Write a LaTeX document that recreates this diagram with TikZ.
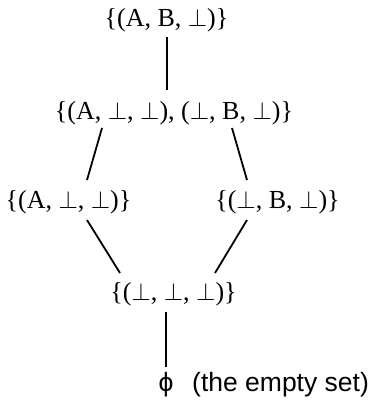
\documentclass[tikz,border=0pt]{standalone}
\usepackage{fontspec}
\setmainfont{Liberation Serif}
\newfontfamily\labelsans{Liberation Sans}
\usetikzlibrary{positioning}

\tikzset{
  set/.style={anchor=base, inner sep=0pt, font=\fontsize{26}{31}\selectfont},
  note/.style={anchor=base, inner sep=0pt, font=\labelsans\fontsize{26.5}{31}\selectfont},
  edge/.style={line width=1.8pt}
}

\begin{document}
\begin{tikzpicture}[x=1pt,y=-1pt]
    \useasboundingbox (0,0) rectangle (370,400);
    % the lattice, top to bottom
    \node[set] (top) at (166.5,26) {\{(A, B, $\bot$)\}};
    \node[set] (pair) at (174,119) {\{(A, $\bot$, $\bot$), ($\bot$, B, $\bot$)\}};
    \node[set] (left) at (68.5,208) {\{(A, $\bot$, $\bot$)\}};
    \node[set] (right) at (277.5,208) {\{($\bot$, B, $\bot$)\}};
    \node[set] (bot) at (173.5,300) {\{($\bot$, $\bot$, $\bot$)\}};
    \node[note] (empty) at (166,391) {ϕ};
    \node[note, anchor=base west] (emptytext) at (192,391) {(the empty set)};
    % orderings
    \draw[edge] ([shift={(0.5,11)}]top.base) -- ([shift={(-7,-29)}]pair.base);
    \draw[edge] ([shift={(-72,9)}]pair.base) -- ([shift={(18.5,-28)}]left.base);
    \draw[edge] ([shift={(58,9)}]pair.base) -- ([shift={(-30.5,-28)}]right.base);
    \draw[edge] ([shift={(18.5,12)}]left.base) -- ([shift={(-53.5,-27)}]bot.base);
    \draw[edge] ([shift={(-30.5,12)}]right.base) -- ([shift={(41.5,-27)}]bot.base);
    \draw[edge] ([shift={(-7.5,12)}]bot.base) -- ([shift={(0,-24)}]empty.base);
\end{tikzpicture}
\end{document}
